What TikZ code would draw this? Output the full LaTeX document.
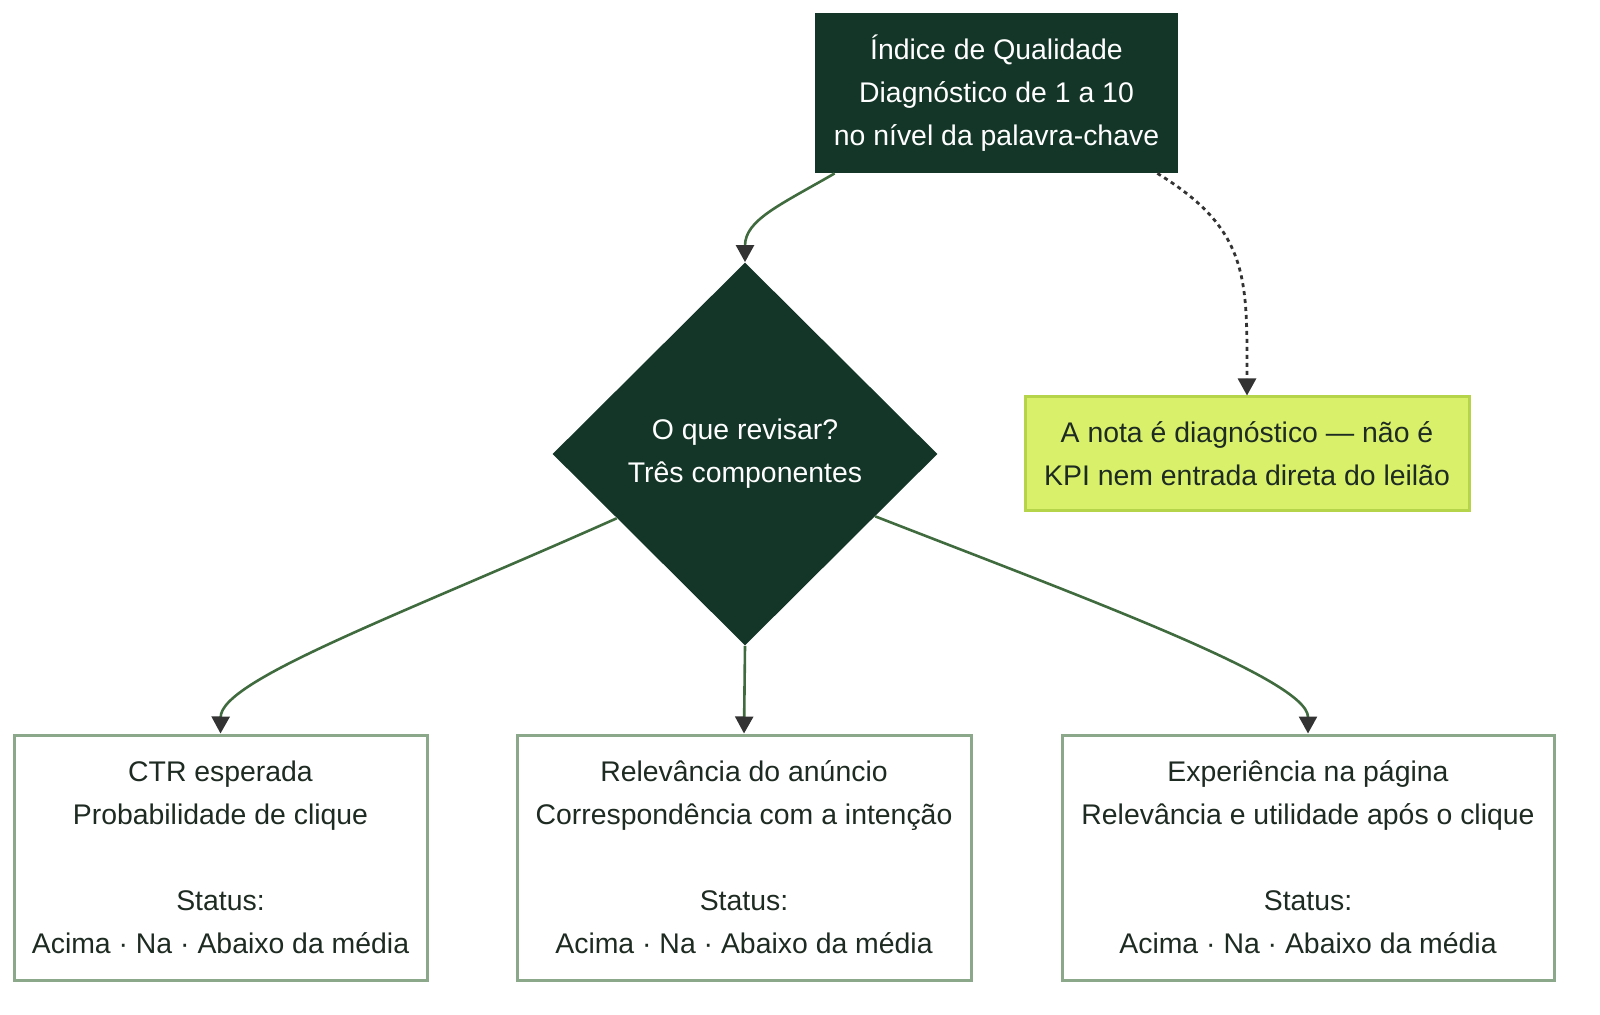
\documentclass[tikz,border=0pt]{standalone}
\usepackage{fontspec}
\setmainfont{Liberation Sans}
\usetikzlibrary{shapes.geometric,arrows.meta,calc}
\definecolor{dk}{HTML}{143628}
\definecolor{ln}{HTML}{3F6B3F}
\definecolor{bd}{HTML}{8CA88A}
\definecolor{yl}{HTML}{D9F06A}
\definecolor{ylb}{HTML}{B5D44A}
\definecolor{tx}{HTML}{1E2B22}
\begin{document}
\begin{tikzpicture}[x=0.5pt,y=-0.5pt,
  txt/.style={font=\fontsize{14.2}{21.5}\selectfont,align=center},
  dark/.style={txt,fill=dk,text=white,inner sep=0},
  box/.style={txt,draw=bd,line width=1.5pt,fill=white,text=tx,minimum width=#1,minimum height=122.5pt,inner sep=0},
  edge/.style={draw=ln,line width=1.3pt,-{Triangle[width=9pt,length=8.5pt,fill=black!80,color=black!80]}},
  dotedge/.style={draw=black!80,line width=1.4pt,dash pattern=on 2pt off 2pt,-{Triangle[width=9pt,length=8.5pt,fill=black!80]}}]
\useasboundingbox (0,0) rectangle (1600,1015);
\node[dark,minimum width=181.5pt,minimum height=80pt] (top) at (996.5,93) {Índice de Qualidade\\Diagnóstico de 1 a 10\\no nível da palavra-chave};
\node[dark,shape=diamond,minimum width=192.5pt,minimum height=191.5pt] (dia) at (745,454) {O que revisar?\\Três componentes};
\node[txt,fill=yl,draw=ylb,line width=1.5pt,text=tx,minimum width=222pt,minimum height=57pt,inner sep=0] (note) at (1247,454) {A nota é diagnóstico — não é\\KPI nem entrada direta do leilão};
\node[box=206.5pt] (b1) at (220.5,857.5) {CTR esperada\\Probabilidade de clique\\[21.5pt]Status:\\Acima · Na · Abaixo da média};
\node[box=227pt] (b2) at (744,857.5) {Relevância do anúncio\\Correspondência com a intenção\\[21.5pt]Status:\\Acima · Na · Abaixo da média};
\node[box=246pt] (b3) at (1308,857.5) {Experiência na página\\Relevância e utilidade após o clique\\[21.5pt]Status:\\Acima · Na · Abaixo da média};
\draw[edge] ($(top.south west)+(20,0)$) .. controls (780,205) and (745,220) .. (dia.north);
\draw[dotedge] ($(top.south east)+(-21,0)$) .. controls (1250,230) and (1247,280) .. (note.north);
\draw[edge] ($(dia.south west)!0.33!(dia.west)$) .. controls (400,615) and (221,680) .. (b1.north);
\draw[edge] (dia.south) -- (b2.north);
\draw[edge] ($(dia.south east)!0.35!(dia.east)$) .. controls (1090,600) and (1308,680) .. (b3.north);
\end{tikzpicture}
\end{document}
